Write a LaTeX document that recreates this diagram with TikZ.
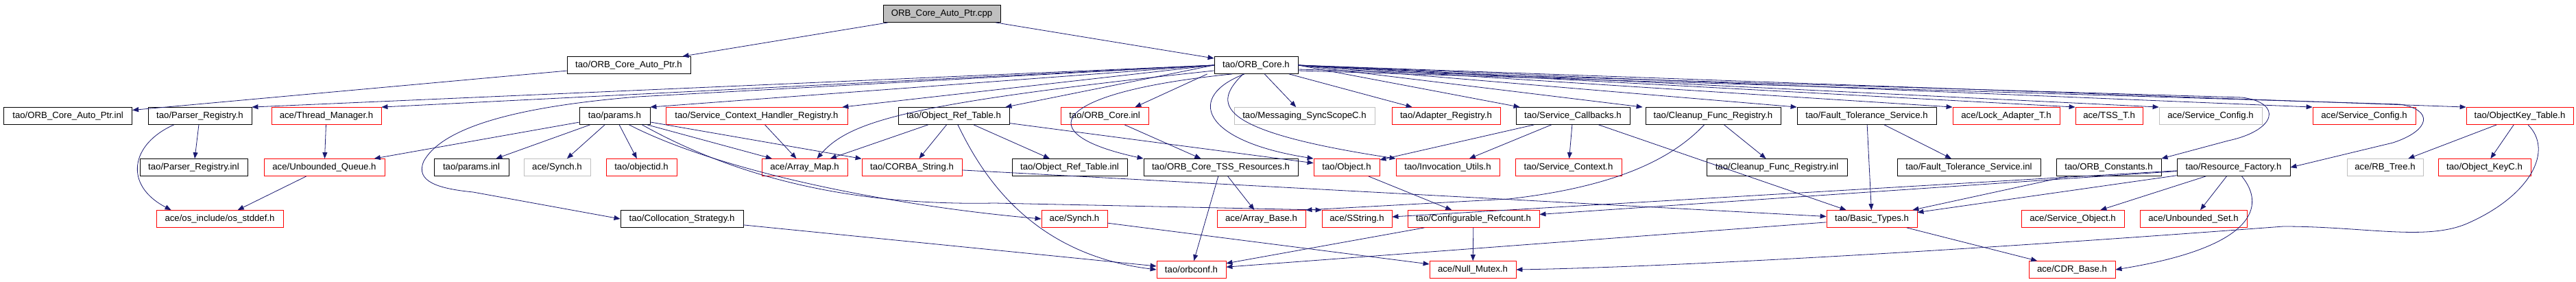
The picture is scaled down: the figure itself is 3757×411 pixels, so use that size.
\documentclass[tikz,border=0pt]{standalone}
\usepackage{fontspec}
\setmainfont{Liberation Sans}
\usetikzlibrary{arrows.meta}
\definecolor{incblue}{RGB}{25,25,112}
\definecolor{boxgray}{RGB}{191,191,191}
\newcommand{\hfile}[6]{\node[#1, minimum width={#4-#3}] (#2) at ({(#3+#4)/2}, #5) {#6};}
\tikzset{
  hdr/.style={draw=black, line width=0.8pt, rectangle, minimum height=25pt, inner sep=0pt, font=\fontsize{13.2}{15}\selectfont},
  nodoc/.style={hdr, draw=red},
  extern/.style={hdr, draw=boxgray},
  src/.style={hdr, fill=boxgray},
  dep/.style={draw=incblue, line width=0.8pt, -{Triangle[length=9pt,width=7pt]}}
}
\begin{document}
\begin{tikzpicture}[x=1pt,y=-1pt]
        \useasboundingbox (0,0) rectangle (3757,411);
        % row 0
        \hfile{src}{cpp}{1288}{1459}{20}{ORB\_Core\_Auto\_Ptr.cpp}
        % row 1
        \hfile{hdr}{autoh}{827}{1007}{95}{tao/ORB\_Core\_Auto\_Ptr.h}
        \hfile{hdr}{orbcore}{1771}{1893}{95}{tao/ORB\_Core.h}
        % row 2
        \hfile{hdr}{autoinl}{5.5}{192.7}{169}{tao/ORB\_Core\_Auto\_Ptr.inl}
        \hfile{hdr}{parser}{216}{367}{169}{tao/Parser\_Registry.h}
        \hfile{nodoc}{thread}{396}{556}{169}{ace/Thread\_Manager.h}
        \hfile{hdr}{params}{845}{948}{169}{tao/params.h}
        \hfile{nodoc}{schr}{971}{1236}{169}{tao/Service\_Context\_Handler\_Registry.h}
        \hfile{hdr}{ortab}{1310}{1472}{169}{tao/Object\_Ref\_Table.h}
        \hfile{nodoc}{coreinl}{1547}{1675}{169}{tao/ORB\_Core.inl}
        \hfile{extern}{msgscope}{1800}{2005}{169}{tao/Messaging\_SyncScopeC.h}
        \hfile{nodoc}{adapter}{2030}{2188}{169}{tao/Adapter\_Registry.h}
        \hfile{hdr}{svccb}{2211}{2377}{169}{tao/Service\_Callbacks.h}
        \hfile{hdr}{cleanup}{2400}{2597}{169}{tao/Cleanup\_Func\_Registry.h}
        \hfile{hdr}{ftsvc}{2621}{2824}{169}{tao/Fault\_Tolerance\_Service.h}
        \hfile{nodoc}{lockad}{2848}{3004}{169}{ace/Lock\_Adapter\_T.h}
        \hfile{nodoc}{tsst}{3027}{3125}{169}{ace/TSS\_T.h}
        \hfile{extern}{svcconfg}{3149}{3299}{169}{ace/Service\_Config.h}
        \hfile{nodoc}{svcconfr}{3373}{3523}{169}{ace/Service\_Config.h}
        \hfile{nodoc}{okeytab}{3597}{3753}{169}{tao/ObjectKey\_Table.h}
        % row 3
        \hfile{hdr}{parserinl}{204}{361}{244}{tao/Parser\_Registry.inl}
        \hfile{nodoc}{uqueue}{385}{561}{244}{ace/Unbounded\_Queue.h}
        \hfile{hdr}{paramsinl}{633}{742}{244}{tao/params.inl}
        \hfile{extern}{synchg}{764}{861}{244}{ace/Synch.h}
        \hfile{nodoc}{objectid}{884}{987}{244}{tao/objectid.h}
        \hfile{nodoc}{arraymap}{1111}{1236}{244}{ace/Array\_Map.h}
        \hfile{nodoc}{corbastr}{1257}{1403}{244}{tao/CORBA\_String.h}
        \hfile{hdr}{ortabinl}{1476}{1644}{244}{tao/Object\_Ref\_Table.inl}
        \hfile{hdr}{tssres}{1668}{1893}{244}{tao/ORB\_Core\_TSS\_Resources.h}
        \hfile{nodoc}{object}{1916}{2012}{244}{tao/Object.h}
        \hfile{nodoc}{invutils}{2036}{2187}{244}{tao/Invocation\_Utils.h}
        \hfile{nodoc}{svcctx}{2210}{2365}{244}{tao/Service\_Context.h}
        \hfile{hdr}{cleanupinl}{2489}{2694}{244}{tao/Cleanup\_Func\_Registry.inl}
        \hfile{hdr}{ftsvcinl}{2767}{2976}{244}{tao/Fault\_Tolerance\_Service.inl}
        \hfile{hdr}{orbconst}{2999}{3152}{244}{tao/ORB\_Constants.h}
        \hfile{hdr}{resfact}{3175}{3340}{244}{tao/Resource\_Factory.h}
        \hfile{extern}{rbtree}{3423}{3534}{244}{ace/RB\_Tree.h}
        \hfile{nodoc}{okeyc}{3556}{3691}{244}{tao/Object\_KeyC.h}
        % row 4
        \hfile{nodoc}{stddef}{228}{413}{319}{ace/os\_include/os\_stddef.h}
        \hfile{hdr}{colloc}{905}{1084}{319}{tao/Collocation\_Strategy.h}
        \hfile{nodoc}{synchr}{1519}{1615}{319}{ace/Synch.h}
        \hfile{nodoc}{arraybase}{1775}{1904}{319}{ace/Array\_Base.h}
        \hfile{nodoc}{sstring}{1928}{2030}{319}{ace/SString.h}
        \hfile{nodoc}{confrc}{2053}{2245}{319}{tao/Configurable\_Refcount.h}
        \hfile{nodoc}{basictypes}{2664}{2796}{319}{tao/Basic\_Types.h}
        \hfile{nodoc}{svcobj}{2948}{3098}{319}{ace/Service\_Object.h}
        \hfile{nodoc}{uset}{3121}{3277}{319}{ace/Unbounded\_Set.h}
        % row 5
        \hfile{nodoc}{orbconf}{1687}{1788}{393}{tao/orbconf.h}
        \hfile{nodoc}{nullmutex}{2085}{2211}{393}{ace/Null\_Mutex.h}
        \hfile{nodoc}{cdrbase}{2959}{3085}{393}{ace/CDR\_Base.h}

        % edges from the source file
        \draw[dep] (cpp) -- (autoh);
        \draw[dep] (cpp) -- (orbcore);
        \draw[dep] (autoh) -- (autoinl);
        % edges from tao/ORB_Core.h
        \draw[dep] (orbcore.west) -- (parser.north east);
        \draw[dep] (orbcore.west) -- (thread.north east);
        \draw[dep] (orbcore.west) -- (params.north east);
        \draw[dep] (orbcore.west) -- (930,141) .. controls (720,158) and (640,195) .. (618,235) .. controls (605,265) and (640,275) .. (690,280) -- (colloc.west);
        \draw[dep] (orbcore.west) -- ([xshift=-8pt]schr.north east);
        \draw[dep] ([yshift=-8pt]orbcore.west) .. controls (1330,150) and (1240,175) .. ([xshift=18pt]arraymap.north);
        \draw[dep] (orbcore.west) -- ([xshift=-6pt]ortab.north east);
        \draw[dep] ([xshift=-10pt]orbcore.south west) -- ([xshift=-20pt]coreinl.north east);
        \draw[dep] ([xshift=-35pt]orbcore.south) .. controls (1530,135) and (1500,195) .. (tssres.north west);
        \draw[dep] ([xshift=-17pt]orbcore.south) .. controls (1730,140) and (1750,205) .. (object.north west);
        \draw[dep] ([xshift=-19pt]orbcore.south) .. controls (1770,150) and (1765,190) .. (invutils.north west);
        \draw[dep] (orbcore) -- (msgscope);
        \draw[dep] (orbcore) -- ([xshift=30pt]adapter.north west);
        \draw[dep] (orbcore.east) -- ([xshift=6pt]svccb.north west);
        \draw[dep] (orbcore.east) -- ([xshift=-4pt]cleanup.north west);
        \draw[dep] (orbcore.east) -- (ftsvc.north west);
        \draw[dep] (orbcore.east) -- (lockad.north west);
        \draw[dep] (orbcore.east) -- (tsst.north west);
        \draw[dep] (orbcore.east) -- (svcconfg.north west);
        \draw[dep] (orbcore.east) -- (svcconfr.north west);
        \draw[dep] (orbcore.east) -- (okeytab.north west);
        \draw[dep] ([yshift=-6pt]orbcore.east) -- (3270,142) .. controls (3330,150) and (3320,190) .. (3250,205) -- (orbconst.north east);
        \draw[dep] ([yshift=-8pt]orbcore.east) -- (3500,152) .. controls (3550,160) and (3545,190) .. (3490,208) -- (resfact.east);
        % edges on the left
        \draw[dep] (parser) -- (parserinl);
        \draw[dep] ([xshift=38pt]parser.south west) .. controls (190,210) and (180,270) .. ([xshift=22pt]stddef.north west);
        \draw[dep] (thread) -- (uqueue);
        \draw[dep] (uqueue) -- (stddef);
        % edges from tao/params.h
        \draw[dep] (params) -- (uqueue);
        \draw[dep] (params) -- (paramsinl);
        \draw[dep] (params) -- (synchg);
        \draw[dep] (params) -- (objectid);
        \draw[dep] (params) -- (arraymap);
        \draw[dep] (params) -- (corbastr);
        \draw[dep] ([xshift=21pt]params.south) .. controls (1050,250) and (1300,300) .. (synchr.west);
        \draw[dep] ([xshift=40pt]params.south) .. controls (1080,262) and (1250,300) .. (1450,296) -- (sstring.north west);
        % edges in the middle
        \draw[dep] (schr) -- (arraymap);
        \draw[dep] (ortab) -- (arraymap);
        \draw[dep] (ortab) -- (corbastr);
        \draw[dep] ([xshift=6pt]ortab.south) .. controls (1430,250) and (1500,370) .. (orbconf.west);
        \draw[dep] (ortab) -- (ortabinl);
        \draw[dep] (ortab) -- (object);
        \draw[dep] (coreinl) -- (tssres);
        \draw[dep] (tssres) -- (orbconf);
        \draw[dep] (tssres) -- (arraybase);
        \draw[dep] (corbastr) -- (basictypes);
        \draw[dep] (colloc) -- (orbconf);
        \draw[dep] (synchr) -- (nullmutex);
        \draw[dep] (object) -- (confrc);
        \draw[dep] (confrc) -- (nullmutex);
        \draw[dep] (confrc) -- (orbconf);
        % edges on the right
        \draw[dep] (svccb) -- (object);
        \draw[dep] (svccb) -- (invutils);
        \draw[dep] (svccb) -- (svcctx);
        \draw[dep] (svccb) -- (basictypes);
        \draw[dep] (cleanup) -- (cleanupinl);
        \draw[dep] ([xshift=-13pt]cleanup.south) .. controls (2440,230) and (2360,272) .. (2200,290) -- (arraybase.north east);
        \draw[dep] (ftsvc) -- (ftsvcinl);
        \draw[dep] (ftsvc) -- (basictypes);
        \draw[dep] (orbconst) -- (basictypes);
        \draw[dep] (resfact) -- (basictypes);
        \draw[dep] (resfact) -- (sstring);
        \draw[dep] (resfact) -- (confrc);
        \draw[dep] (resfact) -- (svcobj);
        \draw[dep] (resfact) -- (uset);
        \draw[dep] ([xshift=12pt]resfact.south) .. controls (3305,300) and (3290,360) .. (cdrbase.east);
        \draw[dep] (basictypes) -- (orbconf);
        \draw[dep] (basictypes) -- (cdrbase);
        \draw[dep] (okeytab) -- (rbtree);
        \draw[dep] (okeytab) -- (okeyc);
        \draw[dep] ([xshift=12pt]okeytab.south) .. controls (3725,220) and (3690,285) .. (3600,325) .. controls (3540,352) and (3450,330) .. (3330,330) .. controls (2800,370) and (2400,390) .. (nullmutex.east);
\end{tikzpicture}
\end{document}
